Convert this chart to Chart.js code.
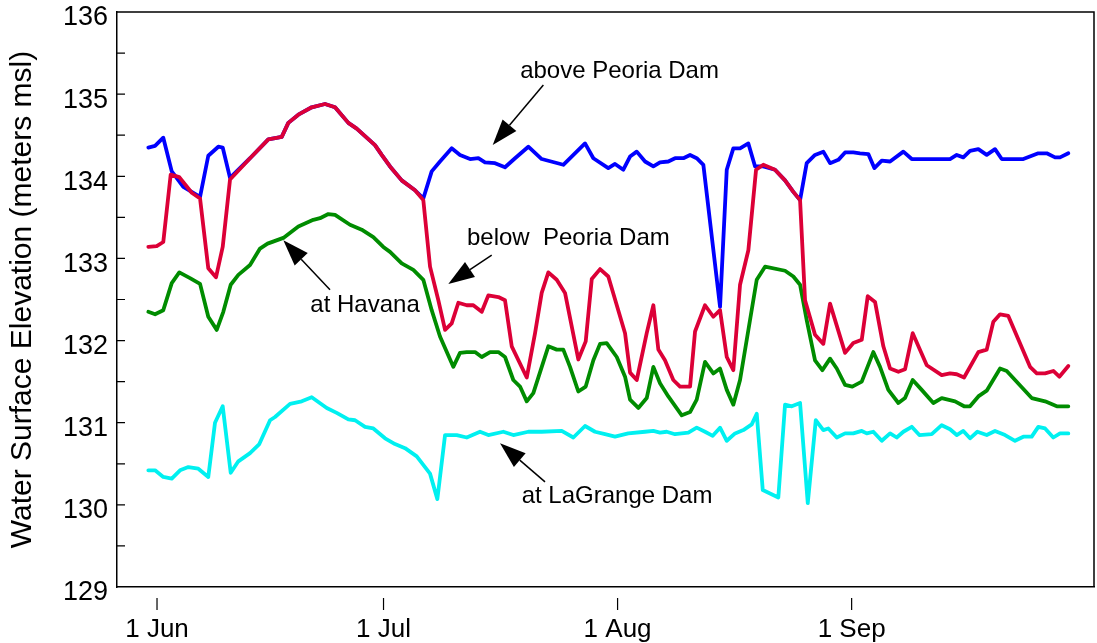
<!DOCTYPE html>
<html>
<head>
<meta charset="utf-8">
<script src="https://cdn.jsdelivr.net/npm/chart.js@4/dist/chart.umd.min.js"></script>
<style>
  html, body { margin: 0; padding: 0; background: #fff; }
  #wrap { width: 1097px; height: 643px; position: relative; }
</style>
</head>
<body>
<div id="wrap"><canvas id="elevChart"></canvas></div>
<script>
// days counted from 1 June (0 = 1 Jun)
const monthTicks = [0, 30, 61, 92];
const monthLabels = ['1 Jun', '1 Jul', '1 Aug', '1 Sep'];

// above Peoria Dam
const aboveDays = [-1.15, -0.26, 0.83, 1.95, 3.48, 5.70, 6.79, 8.12, 8.70, 9.67, 12.32, 14.74, 16.52, 17.39, 18.72, 20.49, 22.25, 23.58, 25.34, 26.45, 28.87, 29.76, 30.86, 32.41, 34.17, 35.27,
  36.38, 37.48, 39.03, 40.13, 41.46, 42.56, 43.44, 44.77, 46.09, 47.42, 49.18, 50.95, 53.81, 56.69, 57.79, 59.77, 60.66, 61.76, 62.65, 63.54, 64.64, 65.74, 66.62, 67.72, 68.61, 69.71, 70.60, 71.48, 72.36,
  74.57, 75.46, 76.33, 77.22, 78.32, 79.21, 80.30, 81.85, 83.18, 84.28, 85.17, 86.05, 87.15, 88.25, 89.14, 90.24, 91.13, 92.22, 93.11, 94.21, 95.01, 95.99, 97.09, 98.85, 99.96,
  105.03, 105.92, 106.79, 107.68, 108.78, 109.89, 110.99, 111.88, 114.74, 116.72, 117.84, 118.94, 119.60, 120.70];
const aboveElev = [134.35, 134.37, 134.47, 134.06, 133.87, 133.75, 134.25, 134.36, 134.35, 133.98, 134.22, 134.45, 134.48, 134.65, 134.75, 134.84, 134.88, 134.84, 134.65, 134.58, 134.38, 134.26, 134.12, 133.95, 133.83, 133.73,
  134.06, 134.18, 134.34, 134.26, 134.21, 134.22, 134.17, 134.16, 134.11, 134.22, 134.36, 134.21, 134.14, 134.40, 134.22, 134.10, 134.15, 134.08, 134.24, 134.30, 134.18, 134.12, 134.17, 134.18, 134.22, 134.22, 134.26, 134.22, 134.14,
  132.41, 134.08, 134.34, 134.34, 134.40, 134.12, 134.12, 134.08, 133.95, 133.81, 133.71, 134.16, 134.26, 134.30, 134.16, 134.20, 134.29, 134.29, 134.28, 134.27, 134.10, 134.19, 134.18, 134.30, 134.21,
  134.21, 134.26, 134.23, 134.31, 134.33, 134.26, 134.33, 134.21, 134.21, 134.28, 134.28, 134.23, 134.23, 134.28];

// below Peoria Dam
const belowDays = [-1.15, -0.04, 0.83, 1.81, 2.95, 4.60, 5.70, 6.79, 7.81, 8.70, 9.67, 12.32, 14.74, 16.52, 17.39, 18.72, 20.49, 22.25, 23.58, 25.34, 26.45, 28.87, 29.76, 30.86, 32.41, 34.17, 35.27,
  36.16, 37.26, 38.15, 39.03, 39.91, 41.02, 41.89, 43.01, 43.88, 45.21, 46.09, 46.98, 48.97, 50.07, 50.95, 51.83, 52.94, 54.04, 55.80, 56.78, 57.58, 58.68, 59.77, 61.99, 62.65, 63.54,
  64.86, 65.74, 66.40, 67.28, 68.38, 69.27, 70.60, 71.26, 72.58, 73.68, 74.57, 75.46, 76.33, 77.22, 78.32, 79.34, 80.30, 81.85, 83.18, 84.28, 85.17,
  85.83, 87.15, 88.25, 89.14, 91.13, 92.22, 93.34, 94.13, 95.10, 96.20, 97.09, 98.19, 99.07, 100.09, 101.95, 103.93, 105.03, 105.92, 106.89, 108.78, 109.89, 110.77, 111.66, 112.75,
  115.63, 116.52, 117.62, 118.71, 119.51, 120.70];
const belowElev = [133.14, 133.15, 133.20, 134.02, 133.99, 133.80, 133.73, 132.88, 132.77, 133.14, 133.96, 134.22, 134.45, 134.48, 134.65, 134.75, 134.84, 134.88, 134.84, 134.65, 134.58, 134.38, 134.26, 134.12, 133.95, 133.83, 133.71,
  132.90, 132.49, 132.13, 132.21, 132.46, 132.43, 132.43, 132.35, 132.55, 132.53, 132.49, 131.93, 131.55, 132.09, 132.58, 132.83, 132.74, 132.58, 131.77, 131.99, 132.75, 132.87, 132.78, 132.09, 131.61, 131.52,
  132.09, 132.43, 131.89, 131.76, 131.52, 131.44, 131.44, 132.11, 132.43, 132.29, 132.37, 131.80, 131.64, 132.68, 133.10, 134.08, 134.14, 134.08, 133.95, 133.81, 133.71,
  132.49, 132.07, 131.96, 132.45, 131.85, 131.97, 132.01, 132.54, 132.47, 131.93, 131.66, 131.62, 131.65, 132.09, 131.70, 131.58, 131.60, 131.59, 131.55, 131.86, 131.89, 132.23, 132.32, 132.30,
  131.68, 131.60, 131.60, 131.63, 131.56, 131.69];

// at Havana
const havanaDays = [-1.15, -0.26, 0.83, 1.95, 2.95, 4.37, 5.70, 6.79, 7.91, 8.78, 9.76, 10.77, 12.32, 13.64, 14.64, 16.73, 18.72, 20.70, 21.59, 22.69, 23.58, 25.56, 27.11, 28.65, 29.97, 30.86, 32.41, 33.95, 35.27,
  36.38, 37.48, 39.24, 40.13, 41.02, 42.12, 43.01, 44.11, 45.21, 46.09, 47.19, 48.08, 48.97, 49.84, 51.83, 52.94, 53.81, 54.70, 55.80, 56.78, 57.79, 58.68, 59.56, 60.89, 61.99, 62.65, 63.75,
  64.86, 65.74, 66.62, 67.72, 69.50, 70.60, 71.48, 72.58, 73.68, 74.57, 75.46, 76.33, 77.22, 79.43, 80.53, 83.18, 84.28, 85.17, 86.05, 87.15, 88.12, 89.14, 90.03, 91.13, 92.09, 93.34,
  94.87, 95.76, 96.86, 98.19, 99.07, 100.09, 101.28, 102.82, 103.93, 105.70, 106.89, 107.68, 108.78, 109.89, 111.66, 112.54, 115.85, 117.62, 119.17, 120.70];
const havanaElev = [132.35, 132.32, 132.37, 132.70, 132.83, 132.76, 132.69, 132.29, 132.13, 132.35, 132.68, 132.80, 132.92, 133.12, 133.18, 133.25, 133.39, 133.47, 133.49, 133.54, 133.53, 133.41, 133.35, 133.26, 133.14, 133.08, 132.94, 132.86, 132.74,
  132.37, 132.05, 131.68, 131.85, 131.86, 131.86, 131.80, 131.86, 131.86, 131.80, 131.52, 131.44, 131.26, 131.36, 131.93, 131.89, 131.89, 131.68, 131.38, 131.44, 131.76, 131.96, 131.97, 131.80, 131.56, 131.28, 131.18,
  131.30, 131.68, 131.48, 131.32, 131.09, 131.13, 131.28, 131.74, 131.60, 131.66, 131.40, 131.22, 131.52, 132.74, 132.90, 132.85, 132.78, 132.68, 132.25, 131.76, 131.64, 131.78, 131.66, 131.46, 131.44, 131.50,
  131.86, 131.68, 131.40, 131.24, 131.30, 131.52, 131.40, 131.24, 131.30, 131.26, 131.20, 131.20, 131.32, 131.39, 131.66, 131.63, 131.30, 131.26, 131.20, 131.20];

// at LaGrange Dam
const lagrangeDays = [-1.15, -0.26, 0.83, 1.95, 3.05, 4.15, 5.47, 6.79, 7.68, 8.70, 9.76, 10.77, 12.32, 13.55, 14.97, 15.63, 17.62, 19.17, 20.49, 22.48, 23.80, 25.34, 26.23, 27.55, 28.65, 30.20, 31.52, 32.85, 34.40,
  36.16, 37.13, 38.15, 39.70, 41.02, 42.78, 43.88, 45.87, 47.19, 49.18, 50.95, 53.60, 55.14, 56.69, 58.01, 59.34, 60.66, 62.42, 64.64, 65.74, 66.62, 67.51, 68.61, 70.37, 71.48, 72.58, 73.60, 74.57,
  75.46, 76.56, 77.66, 78.77, 79.43, 80.23, 82.29, 83.18, 84.07, 85.17, 86.19, 87.25, 88.25, 88.91, 90.03, 91.13, 92.22, 93.34, 94.00, 94.87, 95.99, 97.09, 97.97, 98.85, 99.96,
  100.97, 102.61, 103.93, 105.03, 105.92, 106.79, 107.68, 108.65, 109.89, 110.99, 112.32, 113.64, 114.74, 115.85, 116.72, 117.62, 118.71, 119.60, 120.70];
const lagrangeElev = [130.42, 130.42, 130.34, 130.32, 130.42, 130.46, 130.44, 130.34, 131.00, 131.20, 130.39, 130.53, 130.63, 130.74, 131.03, 131.07, 131.23, 131.26, 131.31, 131.18, 131.12, 131.04, 131.03, 130.95, 130.93, 130.81, 130.74, 130.69, 130.59,
  130.38, 130.07, 130.85, 130.85, 130.82, 130.89, 130.85, 130.89, 130.85, 130.89, 130.89, 130.90, 130.82, 130.96, 130.89, 130.86, 130.83, 130.87, 130.89, 130.90, 130.88, 130.89, 130.86, 130.88, 130.94, 130.89, 130.84, 130.94,
  130.78, 130.87, 130.91, 130.98, 131.11, 130.18, 130.09, 131.22, 131.20, 131.24, 130.02, 131.03, 130.91, 130.93, 130.82, 130.87, 130.87, 130.90, 130.87, 130.89, 130.78, 130.87, 130.82, 130.89, 130.95,
  130.85, 130.86, 130.97, 130.92, 130.85, 130.90, 130.81, 130.89, 130.85, 130.90, 130.85, 130.78, 130.83, 130.83, 130.95, 130.93, 130.82, 130.87, 130.87];

// callout labels: text position and arrow tail -> tip, in (day, elevation)
const callouts = [
  { text: 'above Peoria Dam', at: [61.26, 135.28], from: [51.17, 135.11], to: [44.46, 134.38] },
  { text: 'below  Peoria Dam', at: [54.48, 133.24], from: [44.33, 133.04], to: [38.58, 132.69] },
  { text: 'at Havana', at: [27.55, 132.43], from: [22.91, 132.62], to: [16.73, 133.22] },
  { text: 'at LaGrange Dam', at: [60.93, 130.10], from: [51.39, 130.28], to: [45.43, 130.75] }
];

function toPoints(days, vals) {
  return days.map((d, i) => ({ x: d, y: vals[i] }));
}

const FONT = "'Liberation Sans', Arial, sans-serif";

// frame, inward y ticks, x ticks and callouts
const decorPlugin = {
  id: 'decor',
  afterDraw(chart) {
    const ctx = chart.ctx;
    const a = chart.chartArea;
    const xs = chart.scales.x;
    const ys = chart.scales.y;
    ctx.save();
    ctx.strokeStyle = '#000';
    ctx.lineWidth = 1.5;
    ctx.beginPath();
    ctx.moveTo(a.left, a.top);
    ctx.lineTo(a.right, a.top);
    ctx.lineTo(a.right, a.bottom);
    ctx.stroke();

    ctx.lineWidth = 1.2;
    ctx.beginPath();
    for (let v = 129.5; v < 136; v += 0.5) {
      const py = ys.getPixelForValue(v);
      ctx.moveTo(a.left, py);
      ctx.lineTo(a.left + 8, py);
    }
    monthTicks.forEach(d => {
      const px = xs.getPixelForValue(d);
      ctx.moveTo(px, a.bottom + 11);
      ctx.lineTo(px, a.bottom + 23);
    });
    ctx.stroke();

    ctx.fillStyle = '#000';
    ctx.font = '24px ' + FONT;
    ctx.textAlign = 'center';
    ctx.textBaseline = 'middle';
    callouts.forEach(c => {
      ctx.fillText(c.text, xs.getPixelForValue(c.at[0]), ys.getPixelForValue(c.at[1]));
      const x1 = xs.getPixelForValue(c.from[0]), y1 = ys.getPixelForValue(c.from[1]);
      const x2 = xs.getPixelForValue(c.to[0]), y2 = ys.getPixelForValue(c.to[1]);
      const ang = Math.atan2(y2 - y1, x2 - x1);
      const len = 26, half = 9;
      const bx = x2 - len * Math.cos(ang), by = y2 - len * Math.sin(ang);
      ctx.lineWidth = 1.5;
      ctx.beginPath();
      ctx.moveTo(x1, y1);
      ctx.lineTo(bx, by);
      ctx.stroke();
      ctx.beginPath();
      ctx.moveTo(x2, y2);
      ctx.lineTo(bx + half * Math.sin(ang), by - half * Math.cos(ang));
      ctx.lineTo(bx - half * Math.sin(ang), by + half * Math.cos(ang));
      ctx.closePath();
      ctx.fill();
    });
    ctx.restore();
  }
};

const ctx = document.getElementById('elevChart').getContext('2d');
new Chart(ctx, {
  type: 'line',
  data: {
    datasets: [
      { label: 'below Peoria Dam', data: toPoints(belowDays, belowElev), borderColor: '#dc0037', order: 0 },
      { label: 'above Peoria Dam', data: toPoints(aboveDays, aboveElev), borderColor: '#0000ff', order: 1 },
      { label: 'at Havana', data: toPoints(havanaDays, havanaElev), borderColor: '#008c00', order: 2 },
      { label: 'at LaGrange Dam', data: toPoints(lagrangeDays, lagrangeElev), borderColor: '#00f0f0', order: 3 }
    ]
  },
  options: {
    responsive: true,
    maintainAspectRatio: false,
    animation: false,
    elements: {
      line: { borderWidth: 3.8, tension: 0, fill: false, borderJoinStyle: 'round', borderCapStyle: 'round' },
      point: { radius: 0 }
    },
    layout: { padding: { top: 12, right: 3, left: 0, bottom: 0 } },
    plugins: {
      legend: { display: false },
      tooltip: { enabled: false }
    },
    scales: {
      x: {
        type: 'linear',
        min: -5.3,
        max: 124.1,
        grid: { display: false, drawTicks: false },
        border: { display: true, color: '#000', width: 1.5 },
        afterBuildTicks: function(scale) {
          scale.ticks = monthTicks.map(v => ({ value: v }));
        },
        afterFit: function(scale) { scale.height = 56; },
        ticks: {
          color: '#000',
          font: { family: FONT, size: 26 },
          padding: 27,
          maxRotation: 0,
          callback: function(value) {
            const i = monthTicks.indexOf(value);
            return i >= 0 ? monthLabels[i] : '';
          }
        }
      },
      y: {
        min: 129,
        max: 136,
        grid: { display: false, drawTicks: false },
        border: { display: true, color: '#000', width: 1.5 },
        afterFit: function(scale) {
          scale.width = 117;
          scale.paddingTop = 0;
          scale.paddingBottom = 0;
        },
        ticks: {
          stepSize: 1,
          color: '#000',
          font: { family: FONT, size: 27 },
          padding: 9,
          labelOffset: 6
        },
        title: {
          display: true,
          text: 'Water Surface Elevation (meters msl)',
          color: '#000',
          font: { family: FONT, size: 30 },
          padding: { top: 5, bottom: 0 }
        }
      }
    }
  },
  plugins: [decorPlugin]
});
</script>
</body>
</html>
